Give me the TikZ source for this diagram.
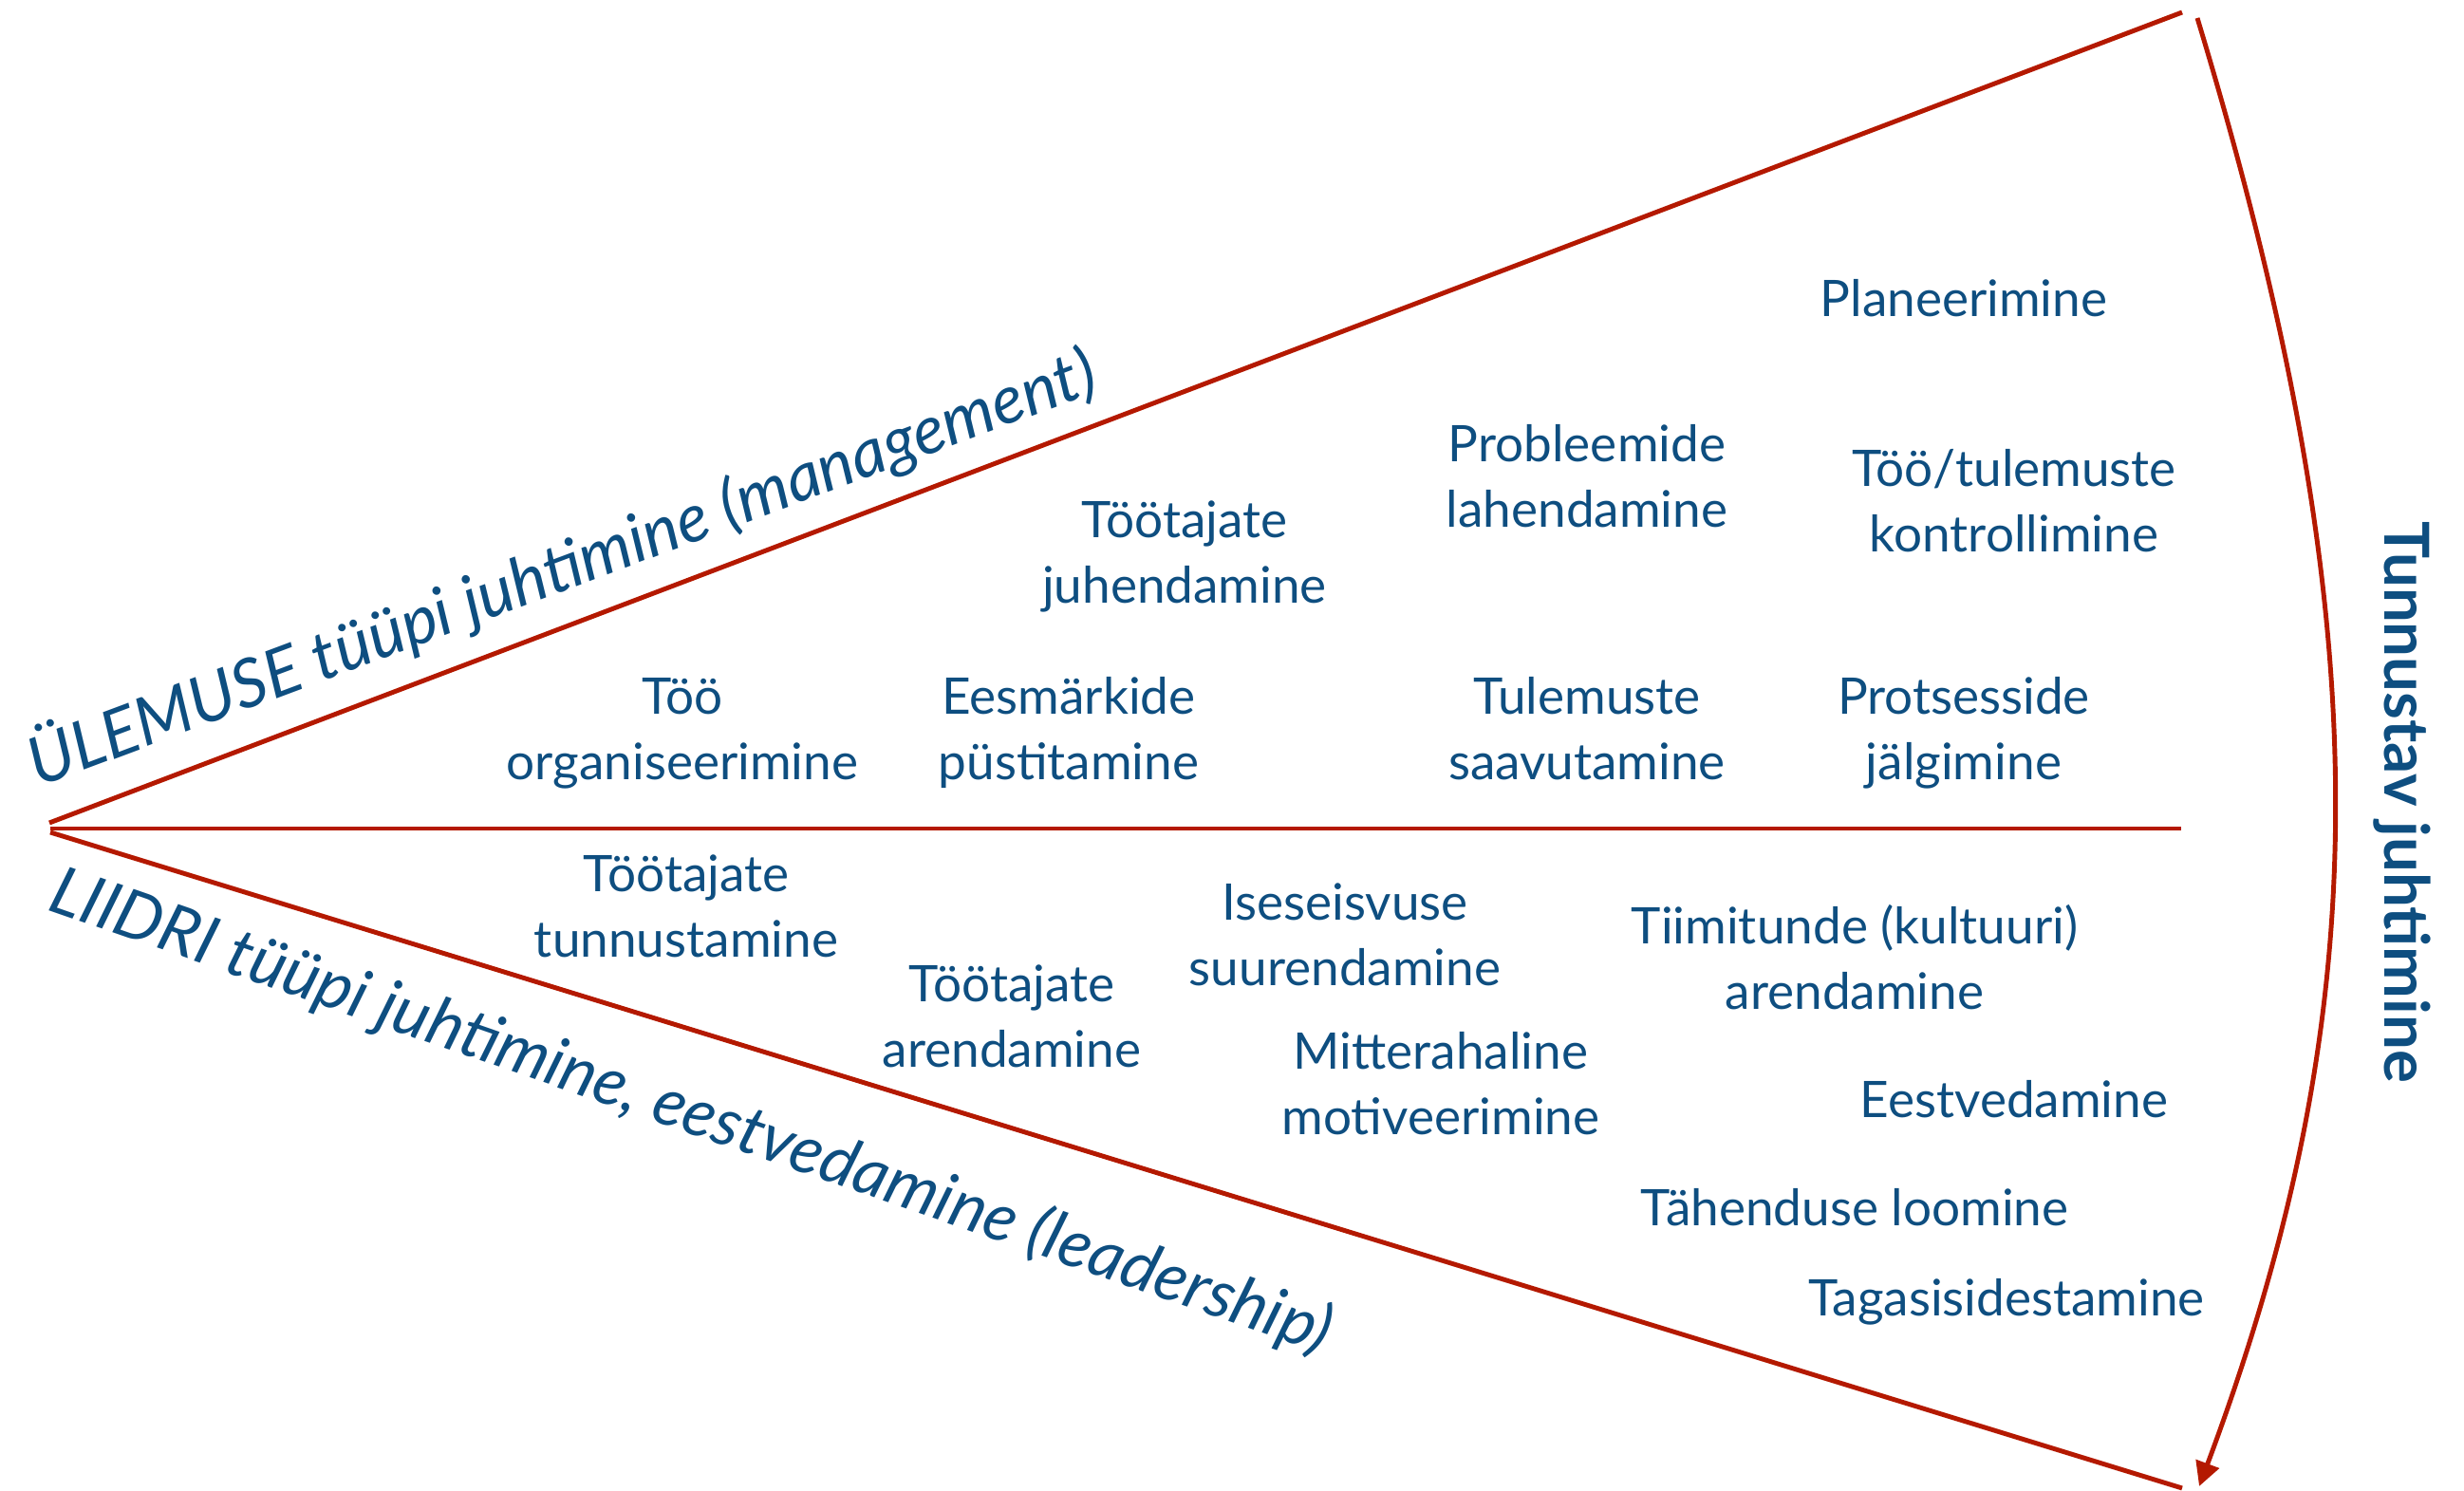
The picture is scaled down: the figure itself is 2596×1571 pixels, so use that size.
\documentclass[tikz,border=0pt]{standalone}
\usepackage{fontspec}
\setmainfont{Lato}
\usetikzlibrary{arrows.meta}
\definecolor{txtblue}{HTML}{0E4E80}
\definecolor{linered}{HTML}{B41900}
\begin{document}
\begin{tikzpicture}[x=0.01cm,y=0.01cm,
  item/.style={text=txtblue, align=center, inner sep=0pt,
    font=\fontsize{15.1}{19.6}\selectfont,
    execute at begin node=\strut, execute at end node=\strut},
  title/.style={text=txtblue, inner sep=0pt,
    font=\fontsize{20}{23}\selectfont\itshape},
  ray/.style={draw=linered, line width=1.4pt},
  sweep/.style={draw=linered, line width=1.4pt,
    -{Triangle[length=7.2pt,width=7.2pt]}}]
\useasboundingbox (0,0) rectangle (2596,-1571);

% the three rays of the fan
\coordinate (apexU) at (52,-867);
\coordinate (apexM) at (53,-873);
\coordinate (apexL) at (53,-877);
\coordinate (endU) at (2299,-13);
\coordinate (endM) at (2298,-873);
\coordinate (endL) at (2299,-1568);
\draw[ray] (apexU) -- (endU);
\draw[ray] (apexM) -- (endM);
\draw[ray] (apexL) -- (endL);

% curved arrow closing the fan
\coordinate (arcTop) at (2315,-19);
\coordinate (arcEnd) at (2317,-1566);
\draw[sweep] (arcTop) .. controls (2510,-662) and (2505,-1063) .. (arcEnd);

% side titles
\node[title, rotate=20.5, anchor=base west] (mgmt) at (40,-830)
  {ÜLEMUSE tüüpi juhtimine (management)};
\node[title, rotate=-19.2, anchor=base west] (lead) at (48,-958)
  {LIIDRI tüüpi juhtimine, eestvedamine (leadership)};
\node[text=txtblue, inner sep=0pt, font=\fontsize{18.6}{22}\selectfont\bfseries,
  rotate=-90, anchor=base] (tunn) at (2512,-845) {Tunnustav juhtimine};

% management activities
\node[item] (plan) at (2069,-320) {Planeerimine};
\node[item] (prob) at (1672,-512) {Probleemide\\lahendamine};
\node[item] (kontr) at (2122,-538) {Töö/tulemuste\\kontrollimine};
\node[item] (juh) at (1248,-592) {Töötajate\\juhendamine};
\node[item] (org) at (719,-778) {Töö\\organiseerimine};
\node[item] (eesm) at (1126,-778) {Eesmärkide\\püstitamine};
\node[item] (tul) at (1672,-778) {Tulemuste\\saavutamine};
\node[item] (prot) at (2069,-778) {Protsesside\\jälgimine};

% leadership activities
\node[item] (tunnust) at (723,-965) {Töötajate\\tunnustamine};
\node[item] (arend) at (1066,-1081) {Töötajate\\arendamine};
\node[item] (isesei) at (1417,-995) {Iseseisvuse\\suurendamine};
\node[item] (mitte) at (1518,-1152) {Mitterahaline\\motiveerimine};
\node[item] (tiim) at (1954,-1019) {Tiimitunde (kultuuri)\\arendamine};
\node[item] (eestv) at (2122,-1164) {Eestvedamine};
\node[item] (tahend) at (1954,-1278) {Tähenduse loomine};
\node[item] (tagasi) at (2114,-1373) {Tagasisidestamine};
\end{tikzpicture}
\end{document}
